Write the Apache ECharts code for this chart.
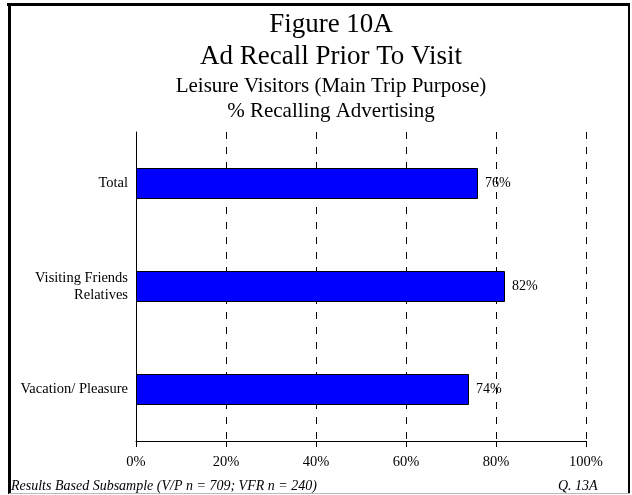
<!DOCTYPE html>
<html>
<head>
<meta charset="utf-8">
<script src="https://cdn.jsdelivr.net/npm/echarts@6/dist/echarts.min.js"></script>
<style>
  html, body { margin: 0; padding: 0; background: #fff; }
  #chart { width: 632px; height: 495px; }
</style>
</head>
<body>
<div id="chart"></div>
<script>
// 数据
const categories = ['Total', 'Visiting Friends\nRelatives', 'Vacation/ Pleasure'];
const recallPct = [76, 82, 74];
const titleLines = ['Figure 10A', 'Ad Recall Prior To Visit'];
const subtitleLines = ['Leisure Visitors (Main Trip Purpose)', '% Recalling Advertising'];
const footNote = 'Results Based Subsample (V/P n = 709; VFR n = 240)';
const questionRef = 'Q. 13A';

const serif = '"Liberation Serif", "DejaVu Serif", serif';
const chart = echarts.init(document.getElementById('chart'));

// 标题文字（居中于 x=331）
const titleText = [
  { text: titleLines[0], y: 25, size: 27 },
  { text: titleLines[1], y: 57, size: 27 },
  { text: subtitleLines[0], y: 86, size: 21 },
  { text: subtitleLines[1], y: 111, size: 21 }
].map(t => ({
  type: 'text',
  x: 331,
  y: t.y,
  style: {
    text: t.text,
    fontFamily: serif,
    fontSize: t.size,
    fill: '#000',
    align: 'center',
    verticalAlign: 'middle'
  }
}));

const option = {
  animation: false,
  backgroundColor: '#fff',
  grid: {
    left: 136,
    right: 46,
    top: 132,
    bottom: 54,
    containLabel: false
  },
  xAxis: {
    type: 'value',
    min: 0,
    max: 100,
    interval: 20,
    axisLine: { show: true, lineStyle: { color: '#000', width: 1 } },
    axisTick: { show: true, length: 6, lineStyle: { color: '#000' } },
    axisLabel: {
      formatter: '{value}%',
      margin: 14,
      fontFamily: serif,
      fontSize: 14.5,
      color: '#000'
    },
    splitLine: {
      show: true,
      lineStyle: { color: '#000', type: [7, 8], width: 1 }
    }
  },
  yAxis: {
    type: 'category',
    data: categories,
    inverse: true,
    axisLine: { show: true, lineStyle: { color: '#000', width: 1 } },
    axisTick: { show: false },
    axisLabel: {
      margin: 8,
      fontFamily: serif,
      fontSize: 14.5,
      color: '#000',
      lineHeight: 17,
      align: 'right'
    }
  },
  series: [
    {
      type: 'bar',
      data: recallPct,
      barWidth: 31,
      itemStyle: { color: '#0000FF', borderColor: '#000', borderWidth: 1 },
      label: {
        show: true,
        position: 'right',
        distance: 7,
        formatter: '{c}%',
        fontFamily: serif,
        fontSize: 14,
        color: '#000'
      }
    }
  ],
  graphic: titleText.concat([
    // 外框
    { type: 'line', shape: { x1: 7, y1: 4.5, x2: 630, y2: 4.5 }, style: { stroke: '#000', lineWidth: 3 }, z: 100 },
    { type: 'line', shape: { x1: 9.5, y1: 3, x2: 9.5, y2: 494 }, style: { stroke: '#000', lineWidth: 3 }, z: 100 },
    { type: 'line', shape: { x1: 629, y1: 3, x2: 629, y2: 494 }, style: { stroke: '#000', lineWidth: 2 }, z: 100 },
    { type: 'line', shape: { x1: 9, y1: 493.5, x2: 630, y2: 493.5 }, style: { stroke: '#bbb', lineWidth: 1 }, z: 100 },
    {
      type: 'text',
      x: 11,
      y: 486,
      style: { text: footNote, fontFamily: serif, fontStyle: 'italic', fontSize: 14, fill: '#000', verticalAlign: 'middle' }
    },
    {
      type: 'text',
      x: 558,
      y: 486,
      style: { text: questionRef, fontFamily: serif, fontStyle: 'italic', fontSize: 14, fill: '#000', verticalAlign: 'middle' }
    }
  ])
};

chart.setOption(option);
</script>
</body>
</html>
